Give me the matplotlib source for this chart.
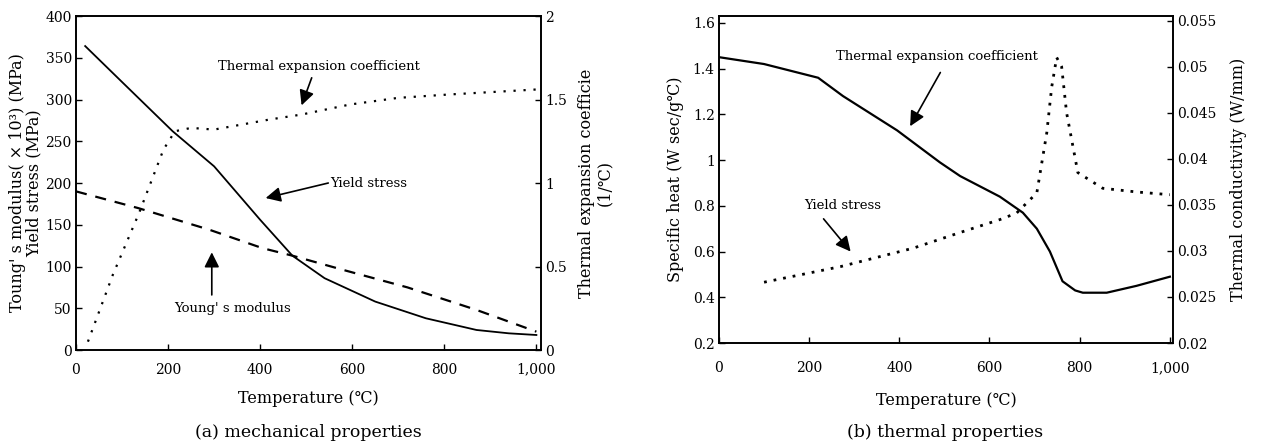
import matplotlib
matplotlib.use("Agg")
import matplotlib.pyplot as plt

plt.rcParams['font.family'] = ['DejaVu Serif', 'Noto Sans CJK JP']
plt.rcParams['axes.linewidth'] = 1.2

# (a) mechanical properties
yield_T = [20, 100, 210, 300, 400, 470, 540, 650, 760, 870, 940, 1000]
yield_v = [364, 321, 262, 220, 156, 113, 86, 58, 38, 24, 20, 18]

young_T = [0, 135, 290, 405, 470, 580, 720, 870, 1000]
young_v = [190, 170, 144, 122, 113, 96, 75, 48, 22]

cte_T = [26, 80, 137, 190, 215, 250, 300, 340, 420, 490, 595, 700, 810, 1000]
cte_v = [0.05, 0.45, 0.82, 1.20, 1.31, 1.33, 1.32, 1.34, 1.38, 1.41, 1.47, 1.51, 1.53, 1.56]

# (b) thermal properties
cp_T = [0, 100, 220, 275, 395, 490, 535, 623, 674, 705, 734, 762, 790, 807, 860, 926, 1000]
cp_v = [1.45, 1.42, 1.36, 1.28, 1.13, 0.99, 0.93, 0.84, 0.77, 0.70, 0.60, 0.47, 0.43,
        0.42, 0.42, 0.45, 0.49]

k_T = [100, 270, 431, 535, 623, 660, 705, 727, 738, 749, 760, 771, 796, 851, 926, 1000]
k_v = [0.0266, 0.0283, 0.0303, 0.0320, 0.0334, 0.0341, 0.0363, 0.0428, 0.0478, 0.0510,
       0.0500, 0.0450, 0.0385, 0.0368, 0.0364, 0.0361]

temp_ticks = [0, 200, 400, 600, 800, 1000]
temp_labels = ['0', '200', '400', '600', '800', '1,000']
stress_ticks = [0, 50, 100, 150, 200, 250, 300, 350, 400]
cte_ticks = [0, 0.5, 1, 1.5, 2]
cte_labels = ['0', '0.5', '1', '1.5', '2']
cp_ticks = [0.2, 0.4, 0.6, 0.8, 1.0, 1.2, 1.4, 1.6]
cp_labels = ['0.2', '0.4', '0.6', '0.8', '1', '1.2', '1.4', '1.6']
k_ticks = [0.02, 0.025, 0.03, 0.035, 0.04, 0.045, 0.05, 0.055]
k_labels = ['0.02', '0.025', '0.03', '0.035', '0.04', '0.045', '0.05', '0.055']

fig = plt.figure(figsize=(12.64, 4.46), dpi=100)

TICK_FS = 10
LABEL_FS = 11.5
NOTE_FS = 9.5
arrow_kw = dict(arrowstyle='-|>,head_length=0.9,head_width=0.45', color='black',
                lw=1.2, shrinkA=0, shrinkB=0)


def style(ax, xpad):
    ax.tick_params(direction='in', length=4, width=1, labelsize=TICK_FS, pad=3)
    ax.tick_params(axis='x', pad=xpad)


# ---------- panel (a) ----------
ax1 = fig.add_axes([0.0601, 0.2152, 0.3679, 0.7489])
ax1.plot(yield_T, yield_v, color='black', lw=1.3)
ax1.plot(young_T, young_v, color='black', lw=1.6, linestyle=(0, (5, 4)))
ax1.set_xlim(0, 1010)
ax1.set_ylim(0, 400)
ax1.set_xticks(temp_ticks)
ax1.set_xticklabels(temp_labels)
ax1.set_yticks(stress_ticks)
style(ax1, 9)
ax1.set_xlabel('Temperature (℃)', fontsize=LABEL_FS, labelpad=10)
ax1.set_ylabel("Toung' s modulus( × 10³) (MPa)\nYield stress (MPa)",
               fontsize=LABEL_FS, linespacing=0.95, labelpad=2)

ax1r = ax1.twinx()
ax1r.plot(cte_T, cte_v, color='black', lw=1.6, linestyle=(0, (1, 3.5)))
ax1r.set_ylim(0, 2)
ax1r.set_yticks(cte_ticks)
ax1r.set_yticklabels(cte_labels)
style(ax1r, 9)
ax1r.set_ylabel('Thermal expansion coefficie\n(1/℃)', fontsize=LABEL_FS,
                linespacing=1.05, labelpad=8)

ax1.annotate('Thermal expansion coefficient', xy=(490, 293), xytext=(527, 339),
             fontsize=NOTE_FS, ha='center', va='center')
ax1.annotate('', xy=(490, 293), xytext=(512, 326), arrowprops=arrow_kw)
ax1.annotate('Yield stress', xy=(412, 182), xytext=(551, 200),
             fontsize=NOTE_FS, ha='left', va='center')
ax1.annotate('', xy=(412, 182), xytext=(548, 200), arrowprops=arrow_kw)
ax1.text(341, 50, "Young' s modulus", fontsize=NOTE_FS, ha='center', va='center')
ax1.annotate('', xy=(295, 117), xytext=(295, 66), arrowprops=arrow_kw)

fig.text(0.244, 0.02, '(a) mechanical properties', fontsize=12.5, ha='center')

# ---------- panel (b) ----------
ax2 = fig.add_axes([0.5688, 0.2309, 0.3592, 0.7332])
ax2.plot(cp_T, cp_v, color='black', lw=1.6)
ax2.set_xlim(0, 1007)
ax2.set_ylim(0.2, 1.63)
ax2.set_xticks(temp_ticks)
ax2.set_xticklabels(temp_labels)
ax2.set_yticks(cp_ticks)
ax2.set_yticklabels(cp_labels)
style(ax2, 13)
ax2.set_xlabel('Temperature (℃)', fontsize=LABEL_FS, labelpad=12)
ax2.set_ylabel('Specific heat (W sec/g℃)', fontsize=LABEL_FS, labelpad=6)

ax2r = ax2.twinx()
ax2r.plot(k_T, k_v, color='black', lw=2.0, linestyle=(0, (1, 2.5)))
ax2r.set_ylim(0.02, 0.0555)
ax2r.set_yticks(k_ticks)
ax2r.set_yticklabels(k_labels)
style(ax2r, 13)
ax2r.set_ylabel('Thermal conductivity (W/mm)', fontsize=LABEL_FS, labelpad=10)

ax2.text(484, 1.452, 'Thermal expansion coefficient', fontsize=NOTE_FS,
         ha='center', va='center')
ax2.annotate('', xy=(424, 1.148), xytext=(491, 1.383), arrowprops=arrow_kw)
ax2.text(274, 0.80, 'Yield stress', fontsize=NOTE_FS, ha='center', va='center')
ax2.annotate('', xy=(292, 0.60), xytext=(232, 0.743), arrowprops=arrow_kw)

fig.text(0.748, 0.02, '(b) thermal properties', fontsize=12.5, ha='center')

fig.savefig('out.png', dpi=100)
